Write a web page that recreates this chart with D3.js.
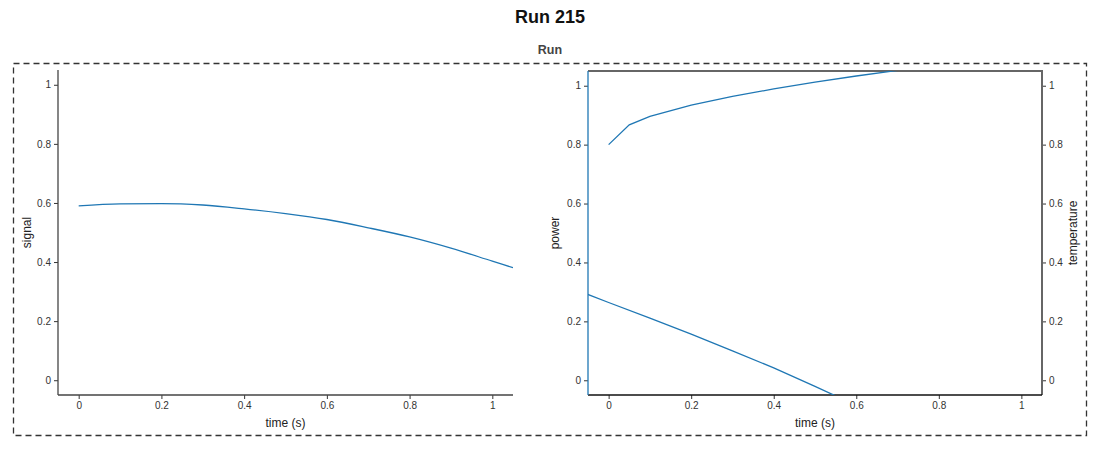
<!DOCTYPE html>
<html><head><meta charset="utf-8">
<script src="https://cdn.jsdelivr.net/npm/d3@7"></script>
<style>
body{margin:0;background:#fff;font-family:"Liberation Sans",Arial,sans-serif;}
</style></head>
<body><svg id="c" width="1100" height="450"></svg>
<script>
const title = "Run 215";
const subtitle = "Run";
const signalTime = [0, 0.1, 0.2, 0.3, 0.4, 0.5, 0.6, 0.7, 0.8, 0.9, 1.0, 1.05];
const signalVals = [0.590, 0.597, 0.598, 0.593, 0.580, 0.564, 0.544, 0.516, 0.485, 0.447, 0.403, 0.381];
const powerTime = [-0.1, 0, 0.1, 0.2, 0.3, 0.4, 0.5, 0.6];
const powerVals = [0.318, 0.264, 0.211, 0.157, 0.100, 0.042, -0.021, -0.085];
const tempTime = [0, 0.05, 0.1, 0.2, 0.3, 0.4, 0.5, 0.6, 0.7, 0.8];
const tempVals = [0.80, 0.867, 0.896, 0.934, 0.964, 0.989, 1.012, 1.033, 1.052, 1.070];
const xTicks = [0, 0.2, 0.4, 0.6, 0.8, 1];
const yTicks = [0, 0.2, 0.4, 0.6, 0.8, 1];
const domainX = [-0.05, 1.05], domainY = [-0.05, 1.05];
const lineColor = "#1f77b4";

const svg = d3.select("#c");
svg.append("text").attr("x",550).attr("y",23).attr("text-anchor","middle")
  .attr("font-size",18).attr("font-weight","bold").attr("fill","#111").text(title);
svg.append("text").attr("x",550).attr("y",54).attr("text-anchor","middle")
  .attr("font-size",12.5).attr("font-weight","bold").attr("fill","#444").text(subtitle);
svg.append("rect").attr("x",13.5).attr("y",63.5).attr("width",1073).attr("height",372)
  .attr("fill","none").attr("stroke","#333").attr("stroke-width",1.3).attr("stroke-dasharray","6,4");

const fmt = d => d3.format("~g")(d);
function styleAxis(g){
  g.selectAll("text").attr("font-size",10).attr("fill","#333").attr("font-family","Liberation Sans, Arial, sans-serif");
  g.selectAll(".tick line").attr("stroke","#333");
  g.select(".domain").remove();
}

function panel(left, right, top, bottom){
  const x = d3.scaleLinear().domain(domainX).range([left,right]);
  const y = d3.scaleLinear().domain(domainY).range([bottom,top]);
  return {x,y};
}

// Left panel
{
  const L=58, R=513, T=70, B=395;
  const {x,y} = panel(L,R,T,B);
  svg.append("clipPath").attr("id","clipL").append("rect").attr("x",L).attr("y",T).attr("width",R-L).attr("height",B-T);
  const gx = svg.append("g").attr("transform",`translate(0,${B})`).call(d3.axisBottom(x).tickValues(xTicks).tickFormat(fmt).tickSize(4).tickPadding(3));
  styleAxis(gx);
  const gy = svg.append("g").attr("transform",`translate(${L},0)`).call(d3.axisLeft(y).tickValues(yTicks).tickFormat(fmt).tickSize(4).tickPadding(3));
  styleAxis(gy);
  svg.append("line").attr("x1",L).attr("x2",L).attr("y1",T).attr("y2",B).attr("stroke","#444").attr("stroke-width",1.3);
  svg.append("line").attr("x1",L).attr("x2",R).attr("y1",B).attr("y2",B).attr("stroke","#444").attr("stroke-width",1.3);
  const line = d3.line().x((d,i)=>x(signalTime[i])).y(d=>y(d)).curve(d3.curveMonotoneX);
  svg.append("path").attr("clip-path","url(#clipL)").attr("d",line(signalVals)).attr("fill","none").attr("stroke",lineColor).attr("stroke-width",1.3);
  svg.append("text").attr("x",(L+R)/2).attr("y",427).attr("text-anchor","middle").attr("font-size",12).attr("fill","#222").text("time (s)");
  svg.append("text").attr("transform",`translate(31,${(T+B)/2}) rotate(-90)`).attr("text-anchor","middle").attr("font-size",12).attr("fill","#222").text("signal");
}

// Right panel
{
  const L=588, R=1042, T=71, B=395;
  const {x,y} = panel(L,R,T,B);
  svg.append("clipPath").attr("id","clipR").append("rect").attr("x",L).attr("y",T).attr("width",R-L).attr("height",B-T);
  const gx = svg.append("g").attr("transform",`translate(0,${B})`).call(d3.axisBottom(x).tickValues(xTicks).tickFormat(fmt).tickSize(4).tickPadding(3));
  styleAxis(gx);
  const gy = svg.append("g").attr("transform",`translate(${L},0)`).call(d3.axisLeft(y).tickValues(yTicks).tickFormat(fmt).tickSize(4).tickPadding(3));
  styleAxis(gy);
  const gy2 = svg.append("g").attr("transform",`translate(${R},0)`).call(d3.axisRight(y).tickValues(yTicks).tickFormat(fmt).tickSize(4).tickPadding(3));
  styleAxis(gy2);
  svg.append("line").attr("x1",L).attr("x2",R+1).attr("y1",T).attr("y2",T).attr("stroke","#666").attr("stroke-width",2);
  svg.append("line").attr("x1",R).attr("x2",R).attr("y1",T).attr("y2",B).attr("stroke","#666").attr("stroke-width",2);
  svg.append("line").attr("x1",L).attr("x2",R).attr("y1",B).attr("y2",B).attr("stroke","#111").attr("stroke-width",1.3);
  svg.append("line").attr("x1",L).attr("x2",L).attr("y1",T).attr("y2",B).attr("stroke",lineColor).attr("stroke-width",1.3);
  const lineP = d3.line().x((d,i)=>x(powerTime[i])).y(d=>y(d));
  svg.append("path").attr("clip-path","url(#clipR)").attr("d",lineP(powerVals)).attr("fill","none").attr("stroke",lineColor).attr("stroke-width",1.3);
  const lineT = d3.line().x((d,i)=>x(tempTime[i])).y(d=>y(d));
  svg.append("path").attr("clip-path","url(#clipR)").attr("d",lineT(tempVals)).attr("fill","none").attr("stroke",lineColor).attr("stroke-width",1.3);
  svg.append("text").attr("x",(L+R)/2).attr("y",427).attr("text-anchor","middle").attr("font-size",12).attr("fill","#222").text("time (s)");
  svg.append("text").attr("transform",`translate(559,${(T+B)/2}) rotate(-90)`).attr("text-anchor","middle").attr("font-size",12).attr("fill","#222").text("power");
  svg.append("text").attr("transform",`translate(1077,${(T+B)/2}) rotate(-90)`).attr("text-anchor","middle").attr("font-size",12).attr("fill","#222").text("temperature");
}
</script></body></html>
